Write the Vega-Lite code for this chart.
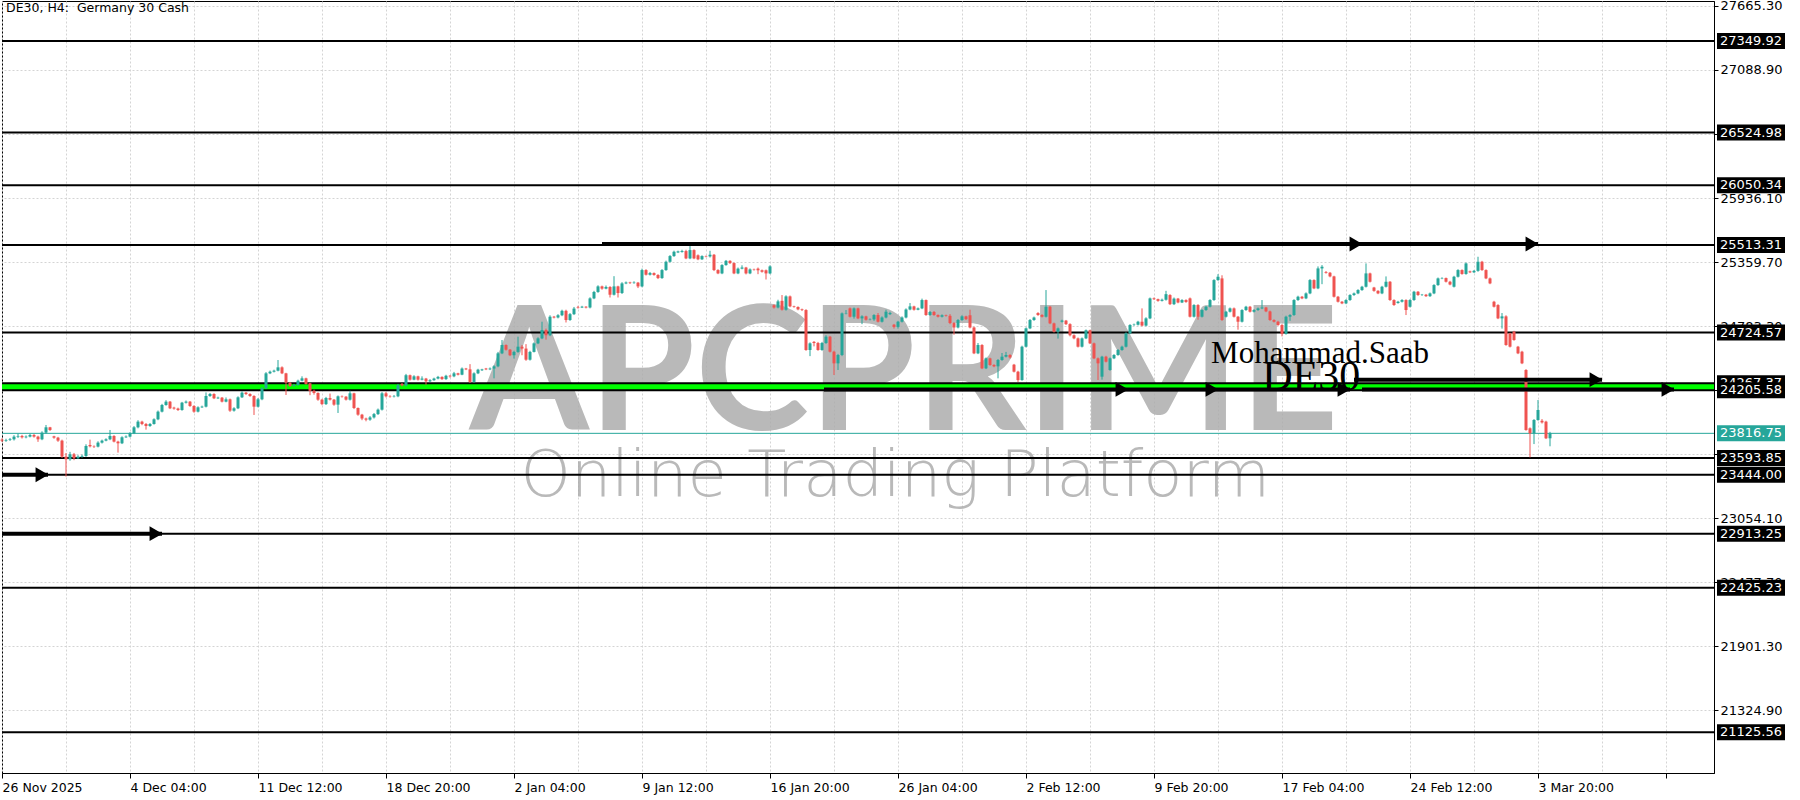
{
"$schema":"https://vega.github.io/schema/vega-lite/v6.json",
"width":1712,"height":772,
"autosize":{"type":"none"},
"padding":{"left":2,"top":1,"right":86,"bottom":27},
"background":"#ffffff",
"config":{"view":{"stroke":"#000000","strokeWidth":1},"axis":{"titleOpacity":0}},
"datasets":{
"candles":[
{"i":0,"o":23760,"h":23772,"l":23738,"c":23751},{"i":1,"o":23751,"h":23768,"l":23740,"c":23757},{"i":2,"o":23757,"h":23775,"l":23748,"c":23763},{"i":3,"o":23763,"h":23800,"l":23752,"c":23787},{"i":4,"o":23787,"h":23815,"l":23775,"c":23793},{"i":5,"o":23793,"h":23803,"l":23770,"c":23781},{"i":6,"o":23781,"h":23798,"l":23772,"c":23787},{"i":7,"o":23787,"h":23812,"l":23780,"c":23802},{"i":8,"o":23802,"h":23810,"l":23778,"c":23787},{"i":9,"o":23787,"h":23795,"l":23740,"c":23763},
{"i":10,"o":23763,"h":23835,"l":23755,"c":23823},{"i":11,"o":23823,"h":23892,"l":23815,"c":23871},{"i":12,"o":23871,"h":23875,"l":23838,"c":23847},{"i":13,"o":23790,"h":23795,"l":23768,"c":23778},{"i":14,"o":23778,"h":23785,"l":23740,"c":23751},{"i":15,"o":23751,"h":23760,"l":23595,"c":23607},{"i":16,"o":23607,"h":23640,"l":23427,"c":23583},{"i":17,"o":23583,"h":23650,"l":23570,"c":23628},{"i":18,"o":23628,"h":23640,"l":23575,"c":23592},{"i":19,"o":23592,"h":23620,"l":23585,"c":23607},
{"i":20,"o":23607,"h":23625,"l":23598,"c":23613},{"i":21,"o":23613,"h":23718,"l":23605,"c":23703},{"i":22,"o":23712,"h":23760,"l":23690,"c":23700},{"i":23,"o":23700,"h":23708,"l":23685,"c":23697},{"i":24,"o":23697,"h":23745,"l":23690,"c":23733},{"i":25,"o":23733,"h":23760,"l":23725,"c":23751},{"i":26,"o":23751,"h":23772,"l":23745,"c":23763},{"i":27,"o":23763,"h":23847,"l":23755,"c":23793},{"i":28,"o":23793,"h":23800,"l":23735,"c":23742},{"i":29,"o":23742,"h":23750,"l":23643,"c":23727},
{"i":30,"o":23727,"h":23790,"l":23720,"c":23781},{"i":31,"o":23781,"h":23798,"l":23775,"c":23787},{"i":32,"o":23787,"h":23828,"l":23780,"c":23817},{"i":33,"o":23817,"h":23882,"l":23810,"c":23871},{"i":34,"o":23871,"h":23935,"l":23862,"c":23922},{"i":35,"o":23922,"h":23930,"l":23890,"c":23901},{"i":36,"o":23901,"h":23910,"l":23850,"c":23883},{"i":37,"o":23883,"h":23910,"l":23875,"c":23901},{"i":38,"o":23901,"h":23952,"l":23895,"c":23943},{"i":39,"o":23943,"h":24022,"l":23935,"c":24012},
{"i":40,"o":24012,"h":24082,"l":24005,"c":24072},{"i":41,"o":24072,"h":24115,"l":24065,"c":24102},{"i":42,"o":24102,"h":24108,"l":24035,"c":24042},{"i":43,"o":24048,"h":24056,"l":24030,"c":24040},{"i":44,"o":24040,"h":24048,"l":24018,"c":24027},{"i":45,"o":24027,"h":24100,"l":24020,"c":24093},{"i":46,"o":24093,"h":24112,"l":24085,"c":24102},{"i":47,"o":24102,"h":24108,"l":24055,"c":24063},{"i":48,"o":24063,"h":24070,"l":24002,"c":24012},{"i":49,"o":24012,"h":24060,"l":24005,"c":24051},
{"i":50,"o":24051,"h":24066,"l":24045,"c":24057},{"i":51,"o":24057,"h":24185,"l":24050,"c":24153},{"i":52,"o":24153,"h":24180,"l":24145,"c":24171},{"i":53,"o":24171,"h":24178,"l":24125,"c":24132},{"i":54,"o":24132,"h":24147,"l":24126,"c":24138},{"i":55,"o":24138,"h":24144,"l":24095,"c":24102},{"i":56,"o":24102,"h":24140,"l":24096,"c":24123},{"i":57,"o":24123,"h":24130,"l":24010,"c":24021},{"i":58,"o":24021,"h":24052,"l":24012,"c":24042},{"i":59,"o":24042,"h":24150,"l":24035,"c":24141},
{"i":60,"o":24141,"h":24195,"l":24135,"c":24183},{"i":61,"o":24183,"h":24190,"l":24162,"c":24171},{"i":62,"o":24171,"h":24178,"l":24145,"c":24153},{"i":63,"o":24153,"h":24160,"l":23982,"c":24057},{"i":64,"o":24057,"h":24135,"l":24050,"c":24123},{"i":65,"o":24123,"h":24232,"l":24115,"c":24222},{"i":66,"o":24222,"h":24368,"l":24215,"c":24357},{"i":67,"o":24357,"h":24382,"l":24350,"c":24372},{"i":68,"o":24372,"h":24390,"l":24365,"c":24381},{"i":69,"o":24381,"h":24477,"l":24375,"c":24411},
{"i":70,"o":24411,"h":24420,"l":24350,"c":24357},{"i":71,"o":24357,"h":24362,"l":24162,"c":24273},{"i":72,"o":24273,"h":24280,"l":24235,"c":24243},{"i":73,"o":24243,"h":24262,"l":24238,"c":24252},{"i":74,"o":24252,"h":24300,"l":24245,"c":24291},{"i":75,"o":24291,"h":24330,"l":24285,"c":24312},{"i":76,"o":24312,"h":24318,"l":24255,"c":24261},{"i":77,"o":24267,"h":24272,"l":24160,"c":24200},{"i":78,"o":24200,"h":24210,"l":24165,"c":24180},{"i":79,"o":24180,"h":24186,"l":24110,"c":24120},
{"i":80,"o":24120,"h":24128,"l":24070,"c":24080},{"i":81,"o":24080,"h":24145,"l":24072,"c":24135},{"i":82,"o":24135,"h":24175,"l":24112,"c":24120},{"i":83,"o":24120,"h":24126,"l":24065,"c":24075},{"i":84,"o":24075,"h":24158,"l":24000,"c":24150},{"i":85,"o":24150,"h":24158,"l":24138,"c":24147},{"i":86,"o":24147,"h":24152,"l":24112,"c":24120},{"i":87,"o":24120,"h":24200,"l":24112,"c":24177},{"i":88,"o":24177,"h":24182,"l":24035,"c":24045},{"i":89,"o":24045,"h":24050,"l":23975,"c":23985},
{"i":90,"o":23985,"h":23992,"l":23935,"c":23950},{"i":91,"o":23950,"h":23958,"l":23925,"c":23940},{"i":92,"o":23940,"h":23972,"l":23930,"c":23960},{"i":93,"o":23960,"h":24000,"l":23950,"c":23990},{"i":94,"o":23990,"h":24040,"l":23982,"c":24030},{"i":95,"o":24030,"h":24188,"l":24022,"c":24177},{"i":96,"o":24177,"h":24190,"l":24140,"c":24150},{"i":97,"o":24150,"h":24160,"l":24138,"c":24147},{"i":98,"o":24147,"h":24162,"l":24140,"c":24150},{"i":99,"o":24150,"h":24262,"l":24142,"c":24250},
{"i":100,"o":24262,"h":24270,"l":24240,"c":24248},{"i":101,"o":24248,"h":24352,"l":24240,"c":24340},{"i":102,"o":24340,"h":24346,"l":24292,"c":24300},{"i":103,"o":24300,"h":24340,"l":24295,"c":24330},{"i":104,"o":24330,"h":24336,"l":24292,"c":24300},{"i":105,"o":24300,"h":24330,"l":24294,"c":24310},{"i":106,"o":24310,"h":24316,"l":24255,"c":24285},{"i":107,"o":24285,"h":24305,"l":24278,"c":24295},{"i":108,"o":24295,"h":24318,"l":24290,"c":24310},{"i":109,"o":24310,"h":24334,"l":24303,"c":24325},
{"i":110,"o":24325,"h":24330,"l":24298,"c":24305},{"i":111,"o":24305,"h":24344,"l":24298,"c":24335},{"i":112,"o":24335,"h":24342,"l":24318,"c":24330},{"i":113,"o":24330,"h":24370,"l":24322,"c":24357},{"i":114,"o":24357,"h":24362,"l":24338,"c":24345},{"i":115,"o":24345,"h":24410,"l":24340,"c":24400},{"i":116,"o":24400,"h":24406,"l":24386,"c":24393},{"i":117,"o":24393,"h":24440,"l":24270,"c":24280},{"i":118,"o":24280,"h":24366,"l":24272,"c":24357},{"i":119,"o":24357,"h":24398,"l":24350,"c":24390},
{"i":120,"o":24385,"h":24398,"l":24378,"c":24392},{"i":121,"o":24400,"h":24406,"l":24386,"c":24393},{"i":122,"o":24393,"h":24410,"l":24386,"c":24400},{"i":123,"o":24400,"h":24430,"l":24312,"c":24420},{"i":124,"o":24420,"h":24550,"l":24412,"c":24537},{"i":125,"o":24537,"h":24657,"l":24530,"c":24612},{"i":126,"o":24612,"h":24618,"l":24562,"c":24570},{"i":127,"o":24570,"h":24576,"l":24512,"c":24520},{"i":128,"o":24520,"h":24560,"l":24490,"c":24550},{"i":129,"o":24550,"h":24687,"l":24542,"c":24597},
{"i":130,"o":24597,"h":24612,"l":24520,"c":24580},{"i":131,"o":24580,"h":24620,"l":24470,"c":24480},{"i":132,"o":24480,"h":24560,"l":24472,"c":24550},{"i":133,"o":24550,"h":24636,"l":24545,"c":24627},{"i":134,"o":24627,"h":24682,"l":24620,"c":24672},{"i":135,"o":24672,"h":24822,"l":24665,"c":24747},{"i":136,"o":24747,"h":24760,"l":24660,"c":24700},{"i":137,"o":24700,"h":24880,"l":24692,"c":24867},{"i":138,"o":24867,"h":24874,"l":24852,"c":24860},{"i":139,"o":24860,"h":24890,"l":24852,"c":24880},
{"i":140,"o":24880,"h":24930,"l":24872,"c":24920},{"i":141,"o":24920,"h":24930,"l":24815,"c":24837},{"i":142,"o":24837,"h":24900,"l":24830,"c":24890},{"i":143,"o":24890,"h":24955,"l":24882,"c":24940},{"i":144,"o":24955,"h":24965,"l":24940,"c":24950},{"i":145,"o":24950,"h":24965,"l":24945,"c":24957},{"i":146,"o":24957,"h":24962,"l":24942,"c":24950},{"i":147,"o":24950,"h":25042,"l":24942,"c":25032},{"i":148,"o":25032,"h":25100,"l":25025,"c":25090},{"i":149,"o":25090,"h":25150,"l":25082,"c":25140},
{"i":150,"o":25140,"h":25147,"l":25110,"c":25120},{"i":151,"o":25120,"h":25148,"l":25114,"c":25135},{"i":152,"o":25135,"h":25142,"l":25040,"c":25065},{"i":153,"o":25065,"h":25232,"l":25058,"c":25140},{"i":154,"o":25140,"h":25146,"l":25040,"c":25080},{"i":155,"o":25080,"h":25178,"l":25072,"c":25167},{"i":156,"o":25167,"h":25184,"l":25160,"c":25175},{"i":157,"o":25175,"h":25182,"l":25162,"c":25170},{"i":158,"o":25170,"h":25186,"l":25164,"c":25174},{"i":159,"o":25174,"h":25180,"l":25125,"c":25140},
{"i":160,"o":25140,"h":25300,"l":25132,"c":25287},{"i":161,"o":25287,"h":25295,"l":25238,"c":25245},{"i":162,"o":25245,"h":25270,"l":25238,"c":25260},{"i":163,"o":25260,"h":25266,"l":25236,"c":25243},{"i":164,"o":25243,"h":25250,"l":25206,"c":25215},{"i":165,"o":25215,"h":25296,"l":25208,"c":25287},{"i":166,"o":25287,"h":25372,"l":25280,"c":25362},{"i":167,"o":25362,"h":25422,"l":25355,"c":25413},{"i":168,"o":25413,"h":25462,"l":25406,"c":25452},{"i":169,"o":25446,"h":25462,"l":25440,"c":25455},
{"i":170,"o":25450,"h":25470,"l":25444,"c":25458},{"i":171,"o":25458,"h":25470,"l":25385,"c":25392},{"i":172,"o":25392,"h":25503,"l":25385,"c":25467},{"i":173,"o":25467,"h":25474,"l":25385,"c":25392},{"i":174,"o":25420,"h":25428,"l":25376,"c":25384},{"i":175,"o":25384,"h":25420,"l":25378,"c":25413},{"i":176,"o":25413,"h":25418,"l":25402,"c":25410},{"i":177,"o":25410,"h":25461,"l":25400,"c":25425},{"i":178,"o":25425,"h":25432,"l":25278,"c":25287},{"i":179,"o":25287,"h":25295,"l":25250,"c":25257},
{"i":180,"o":25257,"h":25340,"l":25250,"c":25332},{"i":181,"o":25332,"h":25378,"l":25326,"c":25370},{"i":182,"o":25370,"h":25376,"l":25342,"c":25350},{"i":183,"o":25350,"h":25356,"l":25250,"c":25257},{"i":184,"o":25257,"h":25310,"l":25250,"c":25300},{"i":185,"o":25300,"h":25330,"l":25294,"c":25310},{"i":186,"o":25310,"h":25316,"l":25248,"c":25257},{"i":187,"o":25257,"h":25302,"l":25250,"c":25293},{"i":188,"o":25293,"h":25300,"l":25282,"c":25290},{"i":189,"o":25300,"h":25310,"l":25250,"c":25285},
{"i":190,"o":25285,"h":25292,"l":25264,"c":25272},{"i":191,"o":25285,"h":25292,"l":25202,"c":25257},{"i":192,"o":25257,"h":25330,"l":25250,"c":25320},{"i":193,"o":24970,"h":24978,"l":24940,"c":24950},{"i":194,"o":24950,"h":25020,"l":24942,"c":25005},{"i":195,"o":25010,"h":25062,"l":24922,"c":24930},{"i":196,"o":24930,"h":25060,"l":24922,"c":25050},{"i":197,"o":25050,"h":25058,"l":24952,"c":24960},{"i":198,"o":24960,"h":24966,"l":24948,"c":24955},{"i":199,"o":24955,"h":24960,"l":24925,"c":24933},
{"i":200,"o":24933,"h":24940,"l":24918,"c":24927},{"i":201,"o":24927,"h":24935,"l":24560,"c":24567},{"i":202,"o":24567,"h":24636,"l":24512,"c":24627},{"i":203,"o":24640,"h":24648,"l":24600,"c":24630},{"i":204,"o":24630,"h":24640,"l":24560,"c":24567},{"i":205,"o":24567,"h":24640,"l":24560,"c":24630},{"i":206,"o":24630,"h":24700,"l":24622,"c":24687},{"i":207,"o":24687,"h":24694,"l":24545,"c":24552},{"i":208,"o":24552,"h":24560,"l":24342,"c":24447},{"i":209,"o":24447,"h":24532,"l":24387,"c":24522},
{"i":210,"o":24522,"h":24905,"l":24512,"c":24897},{"i":211,"o":24897,"h":24927,"l":24888,"c":24900},{"i":212,"o":24942,"h":24950,"l":24860,"c":24867},{"i":213,"o":24867,"h":24950,"l":24850,"c":24942},{"i":214,"o":24942,"h":24948,"l":24845,"c":24852},{"i":215,"o":24852,"h":24880,"l":24800,"c":24870},{"i":216,"o":24870,"h":24876,"l":24832,"c":24840},{"i":217,"o":24840,"h":24852,"l":24834,"c":24843},{"i":218,"o":24843,"h":24890,"l":24830,"c":24882},{"i":219,"o":24882,"h":24900,"l":24815,"c":24822},
{"i":220,"o":24822,"h":24870,"l":24815,"c":24860},{"i":221,"o":24860,"h":24930,"l":24852,"c":24912},{"i":222,"o":24890,"h":24912,"l":24882,"c":24900},{"i":223,"o":24795,"h":24802,"l":24760,"c":24775},{"i":224,"o":24775,"h":24830,"l":24760,"c":24822},{"i":225,"o":24822,"h":24870,"l":24815,"c":24860},{"i":226,"o":24860,"h":24942,"l":24852,"c":24932},{"i":227,"o":24932,"h":24990,"l":24925,"c":24960},{"i":228,"o":24960,"h":24966,"l":24922,"c":24930},{"i":229,"o":24930,"h":24950,"l":24925,"c":24942},
{"i":230,"o":24942,"h":25030,"l":24935,"c":25017},{"i":231,"o":25017,"h":25022,"l":24875,"c":24882},{"i":232,"o":24882,"h":24918,"l":24875,"c":24910},{"i":233,"o":24910,"h":24918,"l":24875,"c":24882},{"i":234,"o":24882,"h":24888,"l":24860,"c":24867},{"i":235,"o":24867,"h":24888,"l":24860,"c":24880},{"i":236,"o":24880,"h":24886,"l":24868,"c":24875},{"i":237,"o":24875,"h":24890,"l":24800,"c":24810},{"i":238,"o":24810,"h":24818,"l":24705,"c":24770},{"i":239,"o":24770,"h":24846,"l":24762,"c":24837},
{"i":240,"o":24837,"h":24880,"l":24830,"c":24870},{"i":241,"o":24870,"h":24876,"l":24838,"c":24845},{"i":242,"o":24880,"h":24930,"l":24762,"c":24770},{"i":243,"o":24770,"h":24778,"l":24530,"c":24537},{"i":244,"o":24537,"h":24630,"l":24530,"c":24612},{"i":245,"o":24612,"h":24620,"l":24395,"c":24402},{"i":246,"o":24402,"h":24500,"l":24395,"c":24492},{"i":247,"o":24492,"h":24498,"l":24425,"c":24432},{"i":248,"o":24432,"h":24440,"l":24412,"c":24420},{"i":249,"o":24420,"h":24486,"l":24312,"c":24477},
{"i":250,"o":24477,"h":24540,"l":24470,"c":24507},{"i":251,"o":24507,"h":24550,"l":24500,"c":24522},{"i":252,"o":24522,"h":24530,"l":24490,"c":24500},{"i":253,"o":24435,"h":24442,"l":24365,"c":24372},{"i":254,"o":24372,"h":24380,"l":24280,"c":24297},{"i":255,"o":24297,"h":24606,"l":24290,"c":24597},{"i":256,"o":24597,"h":24770,"l":24590,"c":24762},{"i":257,"o":24762,"h":24846,"l":24755,"c":24837},{"i":258,"o":24837,"h":24868,"l":24830,"c":24860},{"i":259,"o":24900,"h":24908,"l":24875,"c":24882},
{"i":260,"o":24882,"h":24890,"l":24860,"c":24867},{"i":261,"o":24867,"h":25107,"l":24860,"c":24957},{"i":262,"o":24957,"h":24964,"l":24800,"c":24807},{"i":263,"o":24807,"h":24814,"l":24725,"c":24732},{"i":264,"o":24732,"h":24770,"l":24670,"c":24762},{"i":265,"o":24822,"h":24840,"l":24815,"c":24832},{"i":266,"o":24832,"h":24838,"l":24792,"c":24800},{"i":267,"o":24800,"h":24808,"l":24690,"c":24700},{"i":268,"o":24700,"h":24708,"l":24664,"c":24672},{"i":269,"o":24672,"h":24680,"l":24590,"c":24597},
{"i":270,"o":24597,"h":24680,"l":24590,"c":24672},{"i":271,"o":24672,"h":24752,"l":24665,"c":24745},{"i":272,"o":24745,"h":24750,"l":24620,"c":24627},{"i":273,"o":24627,"h":24634,"l":24485,"c":24492},{"i":274,"o":24492,"h":24500,"l":24297,"c":24447},{"i":275,"o":24327,"h":24515,"l":24300,"c":24507},{"i":276,"o":24507,"h":24515,"l":24455,"c":24462},{"i":277,"o":24387,"h":24500,"l":24380,"c":24492},{"i":278,"o":24492,"h":24530,"l":24485,"c":24522},{"i":279,"o":24522,"h":24576,"l":24515,"c":24567},
{"i":280,"o":24567,"h":24606,"l":24560,"c":24597},{"i":281,"o":24597,"h":24726,"l":24590,"c":24717},{"i":282,"o":24717,"h":24800,"l":24710,"c":24792},{"i":283,"o":24792,"h":24805,"l":24785,"c":24795},{"i":284,"o":24795,"h":24830,"l":24788,"c":24822},{"i":285,"o":24822,"h":24942,"l":24780,"c":24787},{"i":286,"o":24787,"h":24862,"l":24780,"c":24852},{"i":287,"o":24852,"h":25040,"l":24845,"c":25032},{"i":288,"o":25032,"h":25040,"l":25018,"c":25025},{"i":289,"o":25025,"h":25030,"l":25002,"c":25010},
{"i":290,"o":25010,"h":25030,"l":25004,"c":25020},{"i":291,"o":25020,"h":25100,"l":25012,"c":25070},{"i":292,"o":25062,"h":25070,"l":24972,"c":24980},{"i":293,"o":24980,"h":25040,"l":24972,"c":25030},{"i":294,"o":25030,"h":25036,"l":24988,"c":24995},{"i":295,"o":24995,"h":25025,"l":24990,"c":25017},{"i":296,"o":25017,"h":25024,"l":24992,"c":25000},{"i":297,"o":25032,"h":25040,"l":24860,"c":24867},{"i":298,"o":24867,"h":24980,"l":24860,"c":24972},{"i":299,"o":24972,"h":24980,"l":24840,"c":24867},
{"i":300,"o":24867,"h":24935,"l":24860,"c":24927},{"i":301,"o":24927,"h":24965,"l":24920,"c":24957},{"i":302,"o":24957,"h":25025,"l":24950,"c":25017},{"i":303,"o":25017,"h":25205,"l":25010,"c":25197},{"i":304,"o":25197,"h":25250,"l":25190,"c":25227},{"i":305,"o":25212,"h":25240,"l":24830,"c":24837},{"i":306,"o":24867,"h":24920,"l":24860,"c":24912},{"i":307,"o":24912,"h":24950,"l":24905,"c":24942},{"i":308,"o":24942,"h":24950,"l":24860,"c":24867},{"i":309,"o":24867,"h":24874,"l":24750,"c":24822},
{"i":310,"o":24822,"h":24935,"l":24815,"c":24927},{"i":311,"o":24927,"h":24965,"l":24920,"c":24957},{"i":312,"o":24957,"h":24964,"l":24905,"c":24912},{"i":313,"o":24912,"h":24935,"l":24905,"c":24927},{"i":314,"o":24927,"h":24950,"l":24920,"c":24942},{"i":315,"o":24942,"h":25017,"l":24935,"c":24950},{"i":316,"o":24950,"h":24956,"l":24908,"c":24915},{"i":317,"o":24915,"h":24922,"l":24830,"c":24837},{"i":318,"o":24837,"h":24844,"l":24815,"c":24822},{"i":319,"o":24822,"h":24830,"l":24785,"c":24792},
{"i":320,"o":24792,"h":24800,"l":24690,"c":24712},{"i":321,"o":24712,"h":24876,"l":24705,"c":24867},{"i":322,"o":24867,"h":24890,"l":24830,"c":24882},{"i":323,"o":24882,"h":25025,"l":24875,"c":25017},{"i":324,"o":25017,"h":25056,"l":25010,"c":25047},{"i":325,"o":25047,"h":25054,"l":25025,"c":25032},{"i":326,"o":25032,"h":25086,"l":25025,"c":25077},{"i":327,"o":25077,"h":25206,"l":25070,"c":25197},{"i":328,"o":25197,"h":25204,"l":25115,"c":25122},{"i":329,"o":25122,"h":25320,"l":25115,"c":25302},
{"i":330,"o":25302,"h":25332,"l":25160,"c":25317},{"i":331,"o":25270,"h":25278,"l":25255,"c":25263},{"i":332,"o":25263,"h":25270,"l":25222,"c":25230},{"i":333,"o":25230,"h":25236,"l":25040,"c":25047},{"i":334,"o":25047,"h":25054,"l":24995,"c":25002},{"i":335,"o":25002,"h":25008,"l":24980,"c":24987},{"i":336,"o":24987,"h":25025,"l":24980,"c":25017},{"i":337,"o":25017,"h":25070,"l":25010,"c":25062},{"i":338,"o":25062,"h":25085,"l":25055,"c":25077},{"i":339,"o":25077,"h":25115,"l":25070,"c":25107},
{"i":340,"o":25107,"h":25145,"l":25100,"c":25137},{"i":341,"o":25137,"h":25347,"l":25130,"c":25257},{"i":342,"o":25257,"h":25264,"l":25175,"c":25182},{"i":343,"o":25130,"h":25136,"l":25092,"c":25100},{"i":344,"o":25100,"h":25106,"l":25070,"c":25077},{"i":345,"o":25077,"h":25145,"l":25070,"c":25137},{"i":346,"o":25137,"h":25230,"l":25130,"c":25182},{"i":347,"o":25182,"h":25188,"l":25010,"c":25017},{"i":348,"o":25017,"h":25024,"l":24965,"c":24972},{"i":349,"o":24990,"h":25010,"l":24985,"c":25002},
{"i":350,"o":25002,"h":25025,"l":24995,"c":25017},{"i":351,"o":25017,"h":25024,"l":24882,"c":24927},{"i":352,"o":24957,"h":25025,"l":24950,"c":25017},{"i":353,"o":25017,"h":25100,"l":25010,"c":25092},{"i":354,"o":25092,"h":25098,"l":25055,"c":25062},{"i":355,"o":25062,"h":25072,"l":25055,"c":25065},{"i":356,"o":25065,"h":25072,"l":25045,"c":25052},{"i":357,"o":25052,"h":25085,"l":25045,"c":25077},{"i":358,"o":25077,"h":25160,"l":25070,"c":25152},{"i":359,"o":25152,"h":25220,"l":25145,"c":25212},
{"i":360,"o":25212,"h":25222,"l":25205,"c":25215},{"i":361,"o":25215,"h":25220,"l":25175,"c":25182},{"i":362,"o":25182,"h":25190,"l":25150,"c":25157},{"i":363,"o":25137,"h":25235,"l":25130,"c":25227},{"i":364,"o":25227,"h":25295,"l":25220,"c":25287},{"i":365,"o":25287,"h":25294,"l":25245,"c":25252},{"i":366,"o":25252,"h":25355,"l":25245,"c":25347},{"i":367,"o":25275,"h":25282,"l":25260,"c":25267},{"i":368,"o":25267,"h":25288,"l":25260,"c":25280},{"i":369,"o":25280,"h":25407,"l":25272,"c":25362},
{"i":370,"o":25362,"h":25370,"l":25280,"c":25287},{"i":371,"o":25287,"h":25294,"l":25205,"c":25212},{"i":372,"o":25212,"h":25220,"l":25160,"c":25167},{"i":373,"o":25002,"h":25010,"l":24950,"c":24957},{"i":374,"o":24972,"h":24980,"l":24845,"c":24852},{"i":375,"o":24852,"h":24900,"l":24760,"c":24870},{"i":376,"o":24870,"h":24880,"l":24605,"c":24612},{"i":377,"o":24717,"h":24722,"l":24590,"c":24597},{"i":378,"o":24732,"h":24740,"l":24650,"c":24657},{"i":379,"o":24597,"h":24604,"l":24530,"c":24537},
{"i":380,"o":24552,"h":24560,"l":24440,"c":24447},{"i":381,"o":24387,"h":24395,"l":23840,"c":23847},{"i":382,"o":23862,"h":23870,"l":23600,"c":23817},{"i":383,"o":23817,"h":23945,"l":23720,"c":23937},{"i":384,"o":23937,"h":24117,"l":23930,"c":24027},{"i":385,"o":23930,"h":23945,"l":23905,"c":23915},{"i":386,"o":23922,"h":23930,"l":23765,"c":23772},{"i":387,"o":23772,"h":23830,"l":23700,"c":23817}
],
"levels":[{"p":27349.92},{"p":26524.98},{"p":26050.34},{"p":25513.31},{"p":24724.57},{"p":24267.37},{"p":24205.58},{"p":23593.85},{"p":23444.00},{"p":22913.25},{"p":22425.23},{"p":21125.56}],
"boxfront":[{"p":27349.92},{"p":26524.98},{"p":26050.34},{"p":25513.31},{"p":24724.57},{"p":24205.58},{"p":23593.85},{"p":23444.00},{"p":22913.25},{"p":22425.23},{"p":21125.56}],
"boxback":[{"p":24267.37}],
"current":[{"p":23816.75}],
"band":[{"lo":24205.58,"hi":24267.37}],
"arrows":[{"p":25522,"a":150,"b":340},{"p":25522,"a":340,"b":384},{"p":24212,"a":205.5,"b":281.5},{"p":24212,"a":281.5,"b":304},{"p":24212,"a":304,"b":337},{"p":24300,"a":338,"b":400},{"p":24212,"a":340,"b":418},{"p":23444,"a":0,"b":11.5},{"p":22913,"a":0,"b":40}]
},
"layer":[
{"data":{"name":"candles"},
 "mark":{"type":"rule","strokeWidth":1,"opacity":0},
 "encoding":{
  "x":{"field":"i","type":"quantitative","title":null,"scale":{"domain":[0,428],"nice":false,"zero":false,"padding":0},
   "axis":{"title":null,"orient":"bottom","values":[0,16,32,48,64,80,96,112,128,144,160,176,192,208,224,240,256,272,288,304,320,336,352,368,384,400,416],
    "labelExpr":"datum.value % 32 === 0 ? ['26 Nov 2025','4 Dec 04:00','11 Dec 12:00','18 Dec 20:00','2 Jan 04:00','9 Jan 12:00','16 Jan 20:00','26 Jan 04:00','2 Feb 12:00','9 Feb 20:00','17 Feb 04:00','24 Feb 12:00','3 Mar 20:00','',''][datum.value / 32] : ''",
    "labelAlign":"left","labelBaseline":"top","labelPadding":3,"labelFont":"DejaVu Sans","labelFontSize":12.5,"labelColor":"#000000","labelOverlap":false,"labelFlush":false,"labelBound":false,
    "domainColor":"#000000","tickColor":"#000000","tickSize":5,
    "tickOpacity":{"condition":{"test":"datum.value % 32 === 0","value":1},"value":0},
    "grid":true,"gridColor":"#d4d4d4","gridDash":[2,2],"gridWidth":1}},
  "y":{"field":"l","type":"quantitative","title":null,"scale":{"domain":[20757.7,27710.3],"nice":false,"zero":false,"padding":0},
   "axis":{"title":null,"orient":"right","values":[21324.9,21901.3,22477.7,23054.1,23630.5,24206.9,24783.3,25359.7,25936.1,26512.5,27088.9,27665.3],"format":".2f",
    "labelFont":"DejaVu Sans","labelFontSize":13,"labelColor":"#000000","labelPadding":2,"tickSize":4,"tickColor":"#000000","domainColor":"#000000",
    "labelOverlap":false,"labelBound":false,"labelFlush":false,"grid":true,"gridColor":"#d4d4d4","gridDash":[2,2],"gridWidth":1}},
  "y2":{"field":"h"}}},
{"data":{"values":[{"t":"APCPRIME"}]},
 "mark":{"type":"text","font":"Lato","fontSize":172,"fontWeight":"bold","fill":"#adadad","opacity":0.85,"align":"center","baseline":"alphabetic"},
 "encoding":{"x":{"datum":225.5,"type":"quantitative"},"y":{"datum":23846,"type":"quantitative"},"text":{"field":"t"}}},
{"data":{"values":[{"t":"Online Trading Platform"}]},
 "mark":{"type":"text","font":"DejaVu Sans","fontSize":64,"fontWeight":200,"fill":"#adadad","opacity":0.85,"align":"center","baseline":"alphabetic"},
 "encoding":{"x":{"datum":223.3,"type":"quantitative"},"y":{"datum":23252,"type":"quantitative"},"text":{"field":"t"}}},
{"data":{"name":"band"},
 "mark":{"type":"rect","fill":"#00ff00"},
 "encoding":{"y":{"field":"lo","type":"quantitative","title":null},"y2":{"field":"hi"}}},
{"data":{"name":"levels"},
 "mark":{"type":"rule","stroke":"#000000","strokeWidth":2},
 "encoding":{"y":{"field":"p","type":"quantitative","title":null}}},
{"data":{"name":"current"},
 "mark":{"type":"rule","stroke":"#26a69a","strokeWidth":1},
 "encoding":{"y":{"field":"p","type":"quantitative","title":null}}},
{"data":{"name":"candles"},
 "mark":{"type":"rule","strokeWidth":1},
 "encoding":{"x":{"field":"i","type":"quantitative","title":null},"y":{"field":"l","type":"quantitative","title":null},"y2":{"field":"h"},
  "color":{"condition":{"test":"datum.c >= datum.o","value":"#26a69a"},"value":"#ef5350"}}},
{"data":{"name":"candles"},
 "mark":{"type":"bar","width":3},
 "encoding":{"x":{"field":"i","type":"quantitative","title":null},"y":{"field":"o","type":"quantitative","title":null},"y2":{"field":"c"},
  "color":{"condition":{"test":"datum.c >= datum.o","value":"#26a69a"},"value":"#ef5350"}}},
{"data":{"name":"arrows"},
 "mark":{"type":"rule","stroke":"#000000","strokeWidth":4},
 "encoding":{"x":{"field":"a","type":"quantitative","title":null},"x2":{"field":"b"},"y":{"field":"p","type":"quantitative","title":null}}},
{"data":{"name":"arrows"},
 "mark":{"type":"point","shape":"triangle-right","filled":true,"fill":"#000000","size":220,"opacity":1,"xOffset":-6},
 "encoding":{"x":{"field":"b","type":"quantitative","title":null},"y":{"field":"p","type":"quantitative","title":null}}},
{"data":{"values":[{"t":"Mohammad.Saab"}]},
 "mark":{"type":"text","font":"Liberation Serif","fontSize":31,"fill":"#000000","align":"center","baseline":"alphabetic"},
 "encoding":{"x":{"datum":329.5,"type":"quantitative"},"y":{"datum":24450,"type":"quantitative"},"text":{"field":"t"}}},
{"data":{"values":[{"t":"DE30"}]},
 "mark":{"type":"text","font":"Liberation Serif","fontSize":42,"fill":"#000000","align":"center","baseline":"alphabetic"},
 "encoding":{"x":{"datum":327.3,"type":"quantitative"},"y":{"datum":24207,"type":"quantitative"},"text":{"field":"t"}}},
{"data":{"values":[{"t":"DE30, H4:\u00a0 Germany 30 Cash"}]},
 "mark":{"type":"text","font":"DejaVu Sans","fontSize":12.5,"fill":"#000000","align":"left","baseline":"middle"},
 "encoding":{"x":{"datum":1,"type":"quantitative"},"y":{"datum":27647,"type":"quantitative"},"text":{"field":"t"}}},
{"data":{"name":"boxback"},
 "mark":{"type":"rect","fill":"#000000","yOffset":-8,"y2Offset":8},
 "encoding":{"x":{"datum":428.75,"type":"quantitative"},"x2":{"datum":445.75},"y":{"field":"p","type":"quantitative","title":null},"y2":{"field":"p"}}},
{"data":{"name":"boxback"},
 "mark":{"type":"text","align":"left","baseline":"middle","font":"DejaVu Sans","fontSize":13,"fill":"#ffffff"},
 "encoding":{"x":{"datum":429.5,"type":"quantitative"},"y":{"field":"p","type":"quantitative","title":null},"text":{"field":"p","type":"quantitative","format":".2f"}}},
{"data":{"name":"boxfront"},
 "mark":{"type":"rect","fill":"#000000","yOffset":-8,"y2Offset":8},
 "encoding":{"x":{"datum":428.75,"type":"quantitative"},"x2":{"datum":445.75},"y":{"field":"p","type":"quantitative","title":null},"y2":{"field":"p"}}},
{"data":{"name":"boxfront"},
 "mark":{"type":"text","align":"left","baseline":"middle","font":"DejaVu Sans","fontSize":13,"fill":"#ffffff"},
 "encoding":{"x":{"datum":429.5,"type":"quantitative"},"y":{"field":"p","type":"quantitative","title":null},"text":{"field":"p","type":"quantitative","format":".2f"}}},
{"data":{"name":"current"},
 "mark":{"type":"rect","fill":"#26a69a","yOffset":-8,"y2Offset":8},
 "encoding":{"x":{"datum":428.75,"type":"quantitative"},"x2":{"datum":445.75},"y":{"field":"p","type":"quantitative","title":null},"y2":{"field":"p"}}},
{"data":{"name":"current"},
 "mark":{"type":"text","align":"left","baseline":"middle","font":"DejaVu Sans","fontSize":13,"fill":"#ffffff"},
 "encoding":{"x":{"datum":429.5,"type":"quantitative"},"y":{"field":"p","type":"quantitative","title":null},"text":{"field":"p","type":"quantitative","format":".2f"}}}
]
}
